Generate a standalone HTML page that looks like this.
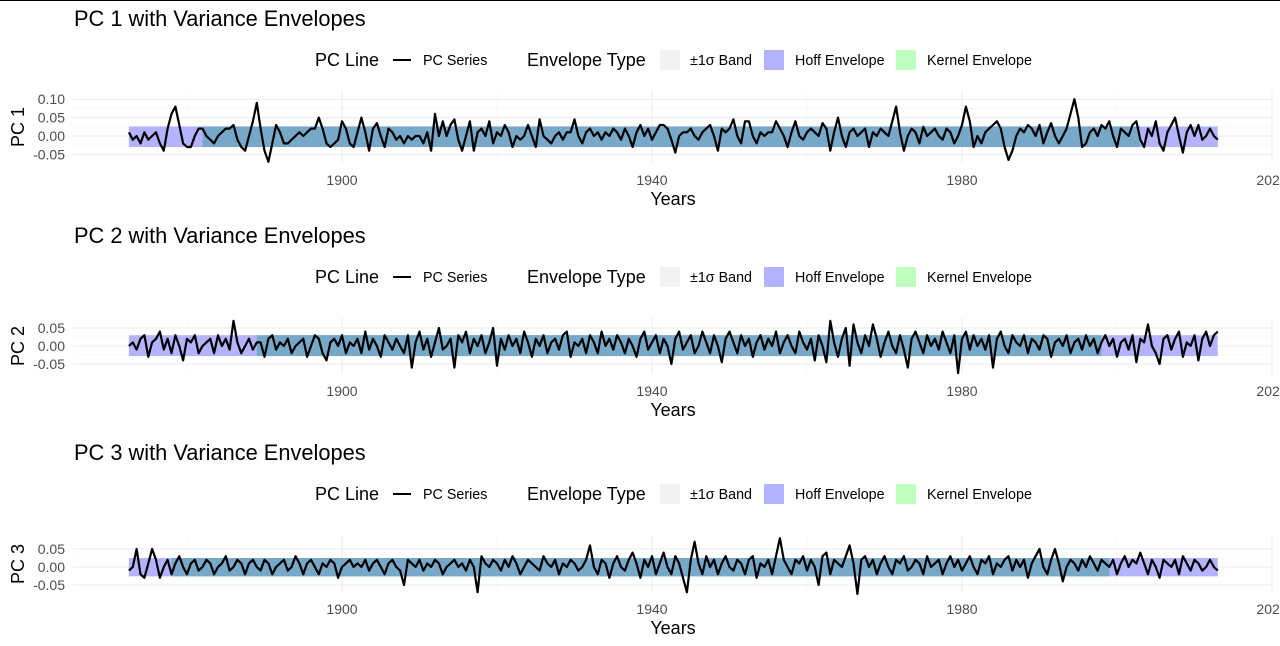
<!DOCTYPE html>
<html><head><meta charset="utf-8"><style>
html,body{margin:0;padding:0;background:#fff;width:1280px;height:646px;overflow:hidden}
svg{font-family:"Liberation Sans",sans-serif;display:block}
</style></head><body>
<svg id="chart" width="1280" height="646" viewBox="0 0 1280 646"></svg>
<script>
const xTicks = [1900, 1940, 1980, 2020];
const xMinor = [1880, 1920, 1960, 2000];
const startYear = 1872.5;
const stepYears = 0.5;
const titles = ["PC 1 with Variance Envelopes", "PC 2 with Variance Envelopes", "PC 3 with Variance Envelopes"];
const yLabels = ["PC 1", "PC 2", "PC 3"];
const yTicks1 = [0.10, 0.05, 0.00, -0.05];
const yTicks2 = [0.05, 0.00, -0.05];
const yTicks3 = [0.05, 0.00, -0.05];
const yTickLabels1 = ["0.10", "0.05", "0.00", "-0.05"];
const yTickLabels23 = ["0.05", "0.00", "-0.05"];
const hoffBand = [[-0.03, 0.026], [-0.028, 0.03], [-0.026, 0.025]];
const kernelSpan = [[1882, 2003], [1889, 1998], [1878, 1999]];
const pc1 = [.01,-.01,.00,-.02,.01,-.01,.00,.01,-.02,-.04,
.02,.06,.08,.03,-.02,-.03,-.03,.00,.02,.02,
.00,-.01,-.02,.00,.01,.02,.02,.03,-.01,-.03,
-.04,.00,.04,.09,.02,-.04,-.07,-.02,.03,.01,
-.02,-.02,-.01,.00,.01,.00,.01,.02,.02,.05,
.02,-.02,-.03,-.02,-.01,.04,.02,-.02,-.03,.01,
.05,.01,-.04,.02,.035,.00,-.03,.02,.01,-.01,
.00,-.02,.00,-.01,.00,.00,-.02,.01,-.04,.06,
.00,.04,.00,.03,.045,-.01,-.04,.00,.04,-.04,
.01,.02,.00,.04,-.02,.01,.00,.03,.01,-.03,
.00,-.01,.00,.03,.00,-.03,.045,.00,-.01,-.02,
.00,.01,-.01,.01,.01,.045,.00,-.02,.01,.02,
.00,.01,-.01,.01,.00,.02,.01,-.01,.02,.00,
-.03,.01,.03,.00,.02,-.01,.01,.03,.03,.02,
-.01,-.045,.00,.01,.01,.02,.00,-.01,.01,.02,
.03,.00,-.04,.02,.01,.02,.045,.00,-.02,.04,
.04,.00,-.02,.01,.00,.01,.01,.04,.02,.00,
-.03,.01,.04,.00,-.01,.01,.02,.01,.00,.035,
.02,-.04,.01,.05,.00,-.03,.01,.02,.00,.01,
.02,-.03,.01,.00,.02,.01,.00,.04,.08,.01,
-.04,.00,.02,.01,-.02,.025,.00,.01,.02,.00,
-.01,.02,.01,-.02,.00,.03,.08,.04,-.03,.00,
-.02,.01,.02,.03,.04,.02,-.03,-.065,-.04,.00,
.02,.01,.03,.02,.00,.03,-.02,.01,.035,.00,
-.02,.00,.02,.06,.1,.05,-.03,-.02,.01,.02,
.00,.03,.02,.04,.00,-.03,.02,.01,.00,.03,
.04,-.01,-.03,.02,.00,.04,-.02,-.04,.01,.03,
.05,.00,-.045,.01,.03,.00,.03,-.01,.00,.02,.00,-.01];
const pc2 = [.00,.01,-.01,.02,.03,-.03,.01,.02,.04,-.01,
.02,-.02,.03,.00,-.04,.02,.01,.03,-.02,.00,
.01,.02,-.02,.03,.00,.02,-.01,.07,.01,-.02,
.00,.02,-.01,.01,.01,-.03,.02,.03,-.01,.01,
.00,.02,-.02,.00,.01,.02,-.03,.00,.03,.02,
-.02,-.04,.01,.02,.00,.03,-.02,.01,.00,.02,
-.02,.04,-.01,.02,.00,-.03,.03,.01,-.01,.02,
.00,-.02,.03,-.06,.01,.04,-.01,.02,-.03,.01,
.05,-.01,.00,.02,-.06,.03,.01,.04,-.02,.02,
.00,.03,-.02,.01,.05,-.055,.02,-.01,.03,.00,
.02,-.02,.04,.01,-.03,.02,.00,.03,-.02,.01,
.02,-.01,.03,.04,-.03,.01,.00,.02,-.02,.03,
.01,-.02,.04,.00,.02,-.01,.03,.01,-.02,.02,
.00,-.03,.02,.04,-.01,.01,.03,-.02,.02,.00,
-.05,.02,.04,-.01,.01,.03,-.02,.00,.04,.01,
-.02,.03,.00,-.045,.02,.04,.01,-.02,.03,.00,
.02,-.03,.01,.03,-.01,.02,.00,.04,-.02,.01,
.03,.00,-.02,.04,.01,-.01,.02,-.04,.03,.00,
-.045,.07,.01,-.03,.02,.05,-.055,.06,.01,-.02,
.03,.00,.06,.02,-.03,.01,.04,.00,-.02,.03,
-.01,-.06,.02,.04,.01,-.02,.03,.00,.02,-.01,
.04,.01,-.02,.03,-.075,.02,.04,-.01,.03,.00,
.02,-.01,.03,-.06,.02,.04,.00,-.02,.03,.01,
.00,.03,-.02,.02,.01,-.01,.03,.02,-.03,.01,
.02,.00,.03,-.02,.01,.02,-.01,.03,.00,.02,
-.02,.01,.03,.00,.02,-.03,.01,.02,-.01,.03,
-.045,.02,.01,.06,.00,-.02,-.05,.02,.03,-.01,
.02,.04,-.03,.01,.00,.03,-.04,.02,.04,.00,.03,.04];
const pc3 = [-.01,.00,.05,-.02,-.03,.01,.05,.02,-.03,.00,
.02,-.02,.01,.03,.00,-.02,.01,.02,-.01,.00,
.02,.01,-.02,.00,.01,.03,-.01,.00,.02,.01,
-.02,.01,.02,.00,-.01,.02,.01,-.02,.00,.01,
.02,-.01,.00,.03,.01,-.02,.01,.02,.00,-.02,
.01,.00,.02,.01,-.03,.00,.01,.02,.00,.01,
.00,.02,-.01,.01,.02,.00,-.02,.01,.02,.00,
-.01,-.05,.02,.01,.00,.02,-.01,.01,.00,.02,
.01,-.02,.00,.01,.02,.00,.01,-.01,.02,.00,
-.07,.03,.01,.00,.02,.01,-.01,.02,.00,.03,
.01,-.02,.00,.02,.01,.00,-.01,.03,.01,.00,
.02,-.02,.01,.00,.02,.01,-.01,.00,.02,.06,
.00,-.02,.02,.01,-.03,.01,.03,.00,-.01,.02,
.04,.01,-.03,.02,.00,.03,-.02,.01,.04,.00,
-.02,.03,.01,-.03,-.07,.02,.07,.01,-.02,.03,
.00,.02,-.02,.01,.03,.00,-.01,.02,.01,-.02,
.02,.03,-.03,.01,.00,.02,-.02,.03,.08,.02,
.00,-.02,.02,.01,.03,-.01,.02,.00,-.05,.03,
.04,-.02,.02,.01,.00,.03,.06,.01,-.075,.02,
.03,.00,.02,-.02,.01,.03,.00,-.02,.02,.01,
.03,-.01,.00,.02,.01,-.02,.03,.00,.01,.02,
-.02,.01,.03,.00,.02,-.01,.01,.03,.00,-.02,
.02,.01,.03,-.02,.01,.00,.02,.03,-.01,.02,
.00,.02,-.03,.01,.03,.05,.00,-.02,.02,.05,
.01,-.04,.00,.02,.01,-.01,.02,.00,.03,.01,
-.01,.02,.01,.00,.02,-.02,.01,.03,.00,.02,
.01,.04,.01,-.02,.02,.00,-.03,.02,.01,.00,
.02,-.02,.03,.01,-.01,.02,.01,-.01,.00,.02,.00,-.01];

const series = [pc1, pc2, pc3];
const yTicksAll = [yTicks1, yTicks2, yTicks3];
const yTickLabelsAll = [yTickLabels1, yTickLabels23, yTickLabels23];

const NS = "http://www.w3.org/2000/svg";
const svg = document.getElementById("chart");
function mk(tag, attrs, parent, text) {
  const e = document.createElementNS(NS, tag);
  for (const k in attrs) e.setAttribute(k, attrs[k]);
  if (text !== undefined) e.textContent = text;
  (parent || svg).appendChild(e);
  return e;
}
const plotL = 73, plotR = 1272;
function xScale(yr) { return 342 + (yr - 1900) * 7.75; }
const panels = [
  {off: 0, zero: 136, k: 368, top: 91, bot: 163},
  {off: 217, zero: 346, k: 360, top: 318, bot: 374},
  {off: 434, zero: 567, k: 360, top: 536, bot: 592}
];

panels.forEach((p, pi) => {
  const g = mk("g", {});
  
  
  const yScale = v => p.zero - v * p.k;

  const title = mk("text", {x: 74, y: 26 + p.off, "font-size": 21.8, fill: "#000"}, g, titles[pi]);
  
  

  const lg = mk("g", {}, g);
  
  
  const ly = 60 + p.off;
  mk("text", {x: 315, y: ly + 6, "font-size": 18, fill: "#000"}, lg, "PC Line");
  const ll = mk("line", {x1: 393, x2: 411, y1: ly, y2: ly, stroke: "#000", "stroke-width": 2}, lg);
  
  
  mk("text", {x: 423, y: ly + 5, "font-size": 14.3, fill: "#000"}, lg, "PC Series");
  mk("text", {x: 527, y: ly + 6, "font-size": 18, fill: "#000"}, lg, "Envelope Type");
  const keys = [[660, "#f2f2f2", 690, "±1σ Band", "legend-sigma-band"], [764, "#b3b3ff", 795, "Hoff Envelope", "legend-hoff-envelope"], [896, "#bfffbf", 927, "Kernel Envelope", "legend-kernel-envelope"]];
  keys.forEach(kk => {
    const r = mk("rect", {x: kk[0], y: ly - 10, width: 20, height: 20, fill: kk[1]}, lg);
    
    
    mk("text", {x: kk[2], y: ly + 5, "font-size": 14.3, fill: "#000"}, lg, kk[3]);
  });

  yTicksAll[pi].forEach((t, i) => {
    mk("line", {x1: plotL, x2: plotR, y1: yScale(t), y2: yScale(t), stroke: "#ebebeb", "stroke-width": 1}, g);
    if (i < yTicksAll[pi].length - 1) {
      const m = (t + yTicksAll[pi][i + 1]) / 2;
      mk("line", {x1: plotL, x2: plotR, y1: yScale(m), y2: yScale(m), stroke: "#f3f3f3", "stroke-width": 0.6}, g);
    }
    const lab = mk("text", {x: 65, y: yScale(t) + 5, "font-size": 14, fill: "#4d4d4d", "text-anchor": "end"}, g, yTickLabelsAll[pi][i]);
    
    
  });
  xMinor.forEach(t => mk("line", {x1: xScale(t), x2: xScale(t), y1: p.top, y2: p.bot, stroke: "#f3f3f3", "stroke-width": 0.6}, g));
  xTicks.forEach(t => {
    const lab = mk("text", {x: xScale(t), y: p.bot + 22, "font-size": 14, fill: "#4d4d4d", "text-anchor": "middle"}, g, String(t));
    
    
    mk("line", {x1: xScale(t), x2: xScale(t), y1: p.top, y2: p.bot, stroke: "#ebebeb", "stroke-width": 1}, g);
  });

  const vals = series[pi];
  const endYear = startYear + (vals.length - 1) * stepYears;
  const hb = hoffBand[pi];
  const hr = mk("rect", {x: xScale(startYear), y: yScale(hb[1]), width: xScale(endYear) - xScale(startYear), height: yScale(hb[0]) - yScale(hb[1]), fill: "#b3b3ff"}, g);
  
  
  const ks = kernelSpan[pi];
  const kr = mk("rect", {x: xScale(ks[0]), y: yScale(hb[1]), width: xScale(ks[1]) - xScale(ks[0]), height: yScale(hb[0]) - yScale(hb[1]), fill: "#78a8c8"}, g);
  
  

  let d = "";
  vals.forEach((v, i) => {
    d += (i ? "L" : "M") + xScale(startYear + i * stepYears).toFixed(1) + "," + yScale(v).toFixed(1);
  });
  const path = mk("path", {d: d, fill: "none", stroke: "#000", "stroke-width": 2.2, "stroke-linejoin": "round"}, g);
  
  

  const xt = mk("text", {x: 673, y: p.bot + 42, "font-size": 18, fill: "#000", "text-anchor": "middle"}, g, "Years");
  
  
  const cy = (p.top + p.bot) / 2;
  const yt = mk("text", {x: 24, y: cy, "font-size": 18, fill: "#000", "text-anchor": "middle", transform: "rotate(-90 24 " + cy + ")"}, g, yLabels[pi]);
  
  
});
mk("line", {x1: 0, x2: 1280, y1: 0.5, y2: 0.5, stroke: "#000", "stroke-width": 1});
</script>
</body></html>
